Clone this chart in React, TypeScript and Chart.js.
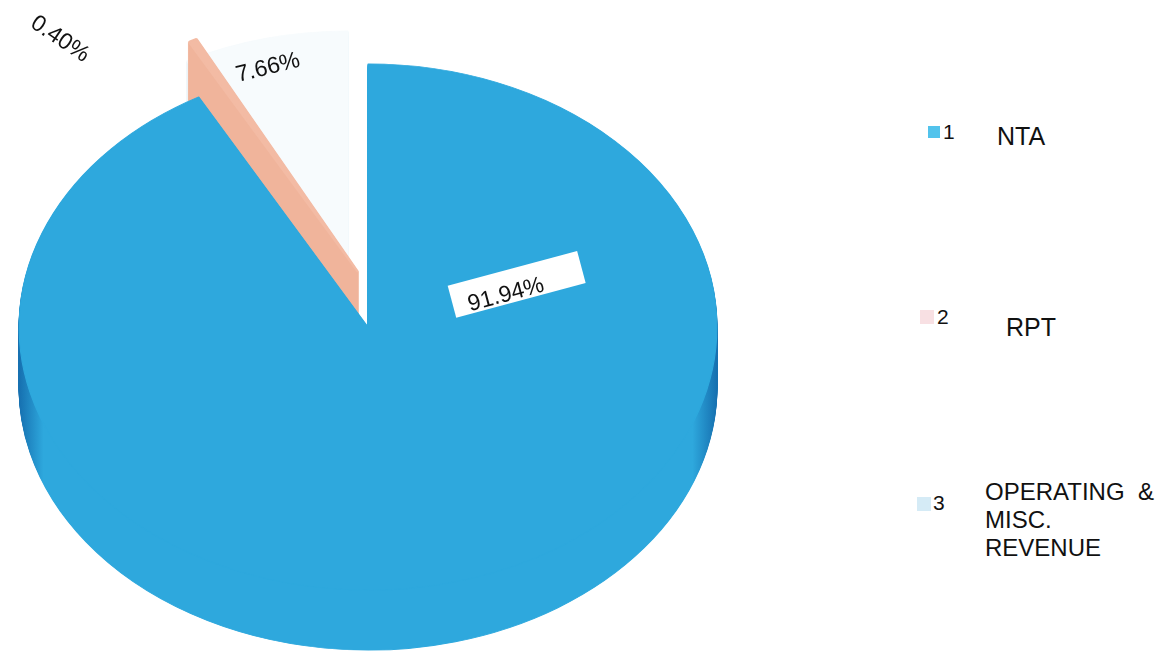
import React, { useEffect, useRef } from "react";
import { Chart, registerables } from "chart.js";

Chart.register(...registerables);

// ---- data ----
const categories = ["NTA", "RPT", "OPERATING & MISC. REVENUE"];
const legendNumbers = ["1", "2", "3"];
const shareValues = [91.94, 0.4, 7.66];
const percentLabels = ["91.94%", "0.40%", "7.66%"];

// ---- style ----
const topColors = ["#2ea8dd", "#f3bba4", "#f7fbfd"];
const sideEdgeColors = ["#1670b0", "#f0b49b", "#e6f1f7"];
const sideMidColors = ["#2ea8dd", "#f0b49b", "#eef6fa"];
const legendColors = ["#52c3ec", "#f8e0e3", "#d5ebf6"];
const sliceShiftX = [0, -10, -20];
const sliceShiftY = [0, -55, -33];
const labelAngleDeg = [-17.1, 226.0, 255.05];
const labelRadiusFrac = [0.414, 1.23, 0.889];
const labelRotationDeg = [-15, 34, -14];
const drawOrder = [2, 1, 0];

const PIE_R = 300;
const SX = 1.163;
const SY = 0.877;
const CX = 368;
const CY = 327;
const DEPTH = 60;
const FONT = '"Liberation Sans", Arial, sans-serif';

function drawWithColor(arc: any, ctx: CanvasRenderingContext2D, color: any) {
  const orig = arc.options;
  arc.options = Object.assign({}, orig, { backgroundColor: color, borderColor: color });
  arc.draw(ctx);
  arc.options = orig;
}

const pie3dPlugin = {
  id: "pie3d",
  beforeDatasetsDraw(chart: any) {
    const ctx: CanvasRenderingContext2D = chart.ctx;
    const meta = chart.getDatasetMeta(0);
    drawOrder.forEach((i) => {
      const arc: any = meta.data[i];
      if (!arc) return;
      const R = arc.outerRadius;
      // side (extrusion)
      for (let d = DEPTH; d >= 1; d--) {
        ctx.save();
        ctx.translate(CX + sliceShiftX[i], CY + sliceShiftY[i] + d);
        ctx.scale(SX, SY);
        ctx.translate(-arc.x, -arc.y);
        const g = ctx.createLinearGradient(arc.x - R, 0, arc.x + R, 0);
        g.addColorStop(0, sideEdgeColors[i]);
        g.addColorStop(0.035, sideMidColors[i]);
        g.addColorStop(0.965, sideMidColors[i]);
        g.addColorStop(1, sideEdgeColors[i]);
        drawWithColor(arc, ctx, g);
        ctx.restore();
      }
      // top face
      ctx.save();
      ctx.translate(CX + sliceShiftX[i], CY + sliceShiftY[i]);
      ctx.scale(SX, SY);
      ctx.translate(-arc.x, -arc.y);
      arc.draw(ctx);
      ctx.restore();
    });
    return false;
  },
  afterDraw(chart: any) {
    const ctx: CanvasRenderingContext2D = chart.ctx;
    const meta = chart.getDatasetMeta(0);
    meta.data.forEach((arc: any, i: number) => {
      const R = arc.outerRadius;
      const a = (labelAngleDeg[i] * Math.PI) / 180;
      const px = CX + sliceShiftX[i] + Math.cos(a) * R * labelRadiusFrac[i] * SX;
      const py = CY + sliceShiftY[i] + Math.sin(a) * R * labelRadiusFrac[i] * SY;
      ctx.save();
      ctx.translate(px, py);
      ctx.rotate((labelRotationDeg[i] * Math.PI) / 180);
      ctx.font = `23px ${FONT}`;
      ctx.textAlign = "center";
      ctx.textBaseline = "middle";
      if (i === 0) {
        ctx.fillStyle = "#ffffff";
        ctx.fillRect(-54, -24, 134, 33);
      }
      ctx.fillStyle = "#111111";
      ctx.fillText(percentLabels[i], 0, 0);
      ctx.restore();
    });
  },
};

const legendItems = [
  { sq: [928, 126, 12], num: [943, 120], text: [997, 122], size: 25, lines: ["NTA"] },
  { sq: [920, 310, 14], num: [937, 305], text: [1006, 313], size: 25, lines: ["RPT"] },
  { sq: [917, 497, 14], num: [933, 491], text: [985, 478], size: 24, lines: ["OPERATING\u00a0\u00a0&", "MISC.", "REVENUE"] },
];

export default function App() {
  const canvasRef = useRef<HTMLCanvasElement | null>(null);

  useEffect(() => {
    if (!canvasRef.current) return;
    const chart = new Chart(canvasRef.current, {
      type: "pie",
      data: {
        labels: categories,
        datasets: [
          {
            data: shareValues,
            backgroundColor: topColors,
            borderColor: topColors,
            borderWidth: [1, 2, 1],
          },
        ],
      },
      options: {
        responsive: false,
        animation: false,
        radius: PIE_R,
        layout: { padding: 0 },
        plugins: {
          legend: { display: false },
          tooltip: { enabled: false },
        },
      } as any,
      plugins: [pie3dPlugin as any],
    });
    return () => chart.destroy();
  }, []);

  return (
    <div
      style={{
        position: "fixed",
        left: 0,
        top: 0,
        width: 1174,
        height: 653,
        background: "#ffffff",
        fontFamily: FONT,
        color: "#111",
        overflow: "hidden",
      }}
    >
      <canvas ref={canvasRef} width={740} height={653} style={{ position: "absolute", left: 0, top: 0 }} />
      {legendItems.map((it, i) => (
        <React.Fragment key={i}>
          <div
            style={{
              position: "absolute",
              left: it.sq[0],
              top: it.sq[1],
              width: it.sq[2],
              height: it.sq[2],
              background: legendColors[i],
            }}
          />
          <div
            style={{
              position: "absolute",
              left: it.num[0],
              top: it.num[1],
              fontSize: 21,
              lineHeight: "24px",
            }}
          >
            {legendNumbers[i]}
          </div>
          <div
            style={{
              position: "absolute",
              left: it.text[0],
              top: it.text[1],
              fontSize: it.size,
              lineHeight: "28px",
              whiteSpace: "nowrap",
            }}
          >
            {it.lines.map((l, j) => (
              <div key={j}>{l}</div>
            ))}
          </div>
        </React.Fragment>
      ))}
    </div>
  );
}
